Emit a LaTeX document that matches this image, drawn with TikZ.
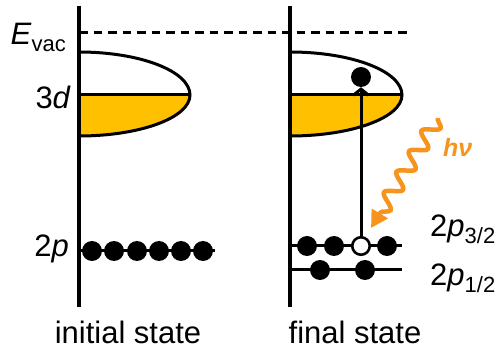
\documentclass[tikz,border=0pt]{standalone}
\usepackage{fontspec}
\setmainfont{Liberation Sans}
\usetikzlibrary{arrows.meta,decorations.pathmorphing}
\definecolor{band}{HTML}{FFC000}
\definecolor{photon}{HTML}{F7941D}
\newcommand\lowsub[1]{\raisebox{-6.5pt}{\fontsize{22}{25}\selectfont #1}}

\begin{document}
\begin{tikzpicture}[x=1pt,y=1pt,
  axis/.style={line width=3.2pt},
  level/.style={line width=3pt},
  vacline/.style={line width=3pt,dash pattern=on 8.5pt off 6pt},
  electron/.style={circle,fill=black,inner sep=0pt,minimum size=20pt},
  hole/.style={circle,draw=black,fill=white,line width=2.6pt,inner sep=0pt,minimum size=17.5pt},
  lbl/.style={inner sep=0pt,font=\fontsize{31}{35}\selectfont},
  statelbl/.style={inner sep=0pt,text depth=0pt,font=\fontsize{31}{35}\selectfont},
  photonlbl/.style={inner sep=0pt,text=photon,font=\fontsize{25}{28}\selectfont\bfseries\itshape},
  bandedge/.style={line width=3pt}]
\useasboundingbox (0,0) rectangle (499,351);

% vacuum level
\coordinate (vacL) at (79,318);
\coordinate (vacR) at (407,318);
\draw[vacline] (vacL) -- (vacR);

% 3d bands: white upper half, filled lower half
\foreach \x/\r in {79/111, 290/112}{
  \fill[band] (\x,256) -- ++(\r,0) arc[start angle=0,end angle=-90,x radius=\r,y radius=41] -- cycle;
  \draw[bandedge] (\x,299) arc[start angle=90,end angle=0,x radius=\r,y radius=43]
                  arc[start angle=0,end angle=-90,x radius=\r,y radius=41];
  \draw[bandedge] (\x,256) -- ++(\r,0);
}

% energy axes
\coordinate (Ltop) at (79,345);
\coordinate (Lbot) at (79,44);
\coordinate (Rtop) at (290,345);
\coordinate (Rbot) at (290,44);
\draw[axis] (Ltop) -- (Lbot);
\draw[axis] (Rtop) -- (Rbot);

% core levels
\coordinate (pL0) at (79,100);
\coordinate (pL1) at (215,100);
\draw[level] (pL0) -- (pL1);
\coordinate (p3a) at (290,105);
\coordinate (p3b) at (402,105);
\draw[level] (p3a) -- (p3b);
\coordinate (p1a) at (290,81);
\coordinate (p1b) at (402,81);
\draw[level] (p1a) -- (p1b);

% electrons, initial state
\foreach \x [count=\i] in {92,114,137,159,181,203}
  \node[electron] (ei\i) at (\x,100) {};

% electrons and hole, final state
\node[electron] (f1) at (307,105) {};
\node[electron] (f2) at (334,105) {};
\node[hole]     (hl) at (361,105) {};
\node[electron] (f4) at (387,105) {};
\node[electron] (g1) at (320,81) {};
\node[electron] (g2) at (365,81) {};
\node[electron] (exc) at (361,274) {};

% excitation
\draw[level,-{Straight Barb[length=6pt,width=15pt,line width=3pt]}] (hl) -- (exc);

% incoming photon
\coordinate (phs) at (438,233);
\coordinate (phe) at (371,123);
\draw[photon,line width=4.5pt,decorate,
      decoration={snake,amplitude=7.5pt,segment length=24pt,post length=17pt},
      -{Triangle[length=17pt,width=18pt]}] (phs) -- (phe);
\node[photonlbl,anchor=base west] (hv) at (443,194) {hν};

% labels
\node[lbl,anchor=base east] (evac) at (66,306) {\textit{E}\lowsub{vac}};
\node[lbl,anchor=base east] (d3) at (71,242) {3\textit{d}};
\node[lbl,anchor=base east] (p2) at (69,94) {2\textit{p}};
\node[lbl,anchor=base west] (p32) at (430,114) {2\textit{p}\lowsub{3/2}};
\node[lbl,anchor=base west] (p12) at (430,65) {2\textit{p}\lowsub{1/2}};
\node[statelbl,anchor=base] (ini) at (128,7) {initial state};
\node[statelbl,anchor=base] (fin) at (355,7) {final state};
\end{tikzpicture}
\end{document}
